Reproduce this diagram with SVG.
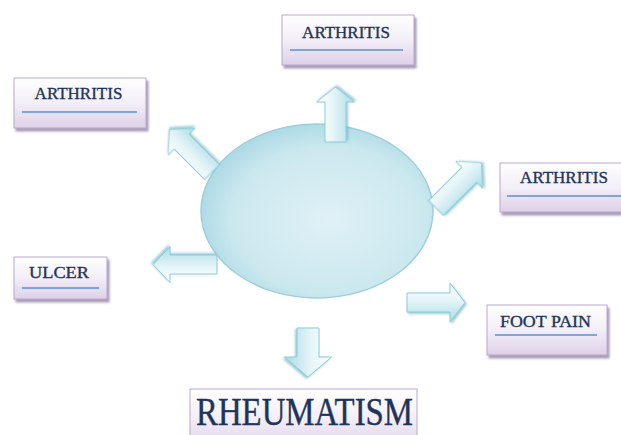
<svg xmlns="http://www.w3.org/2000/svg" width="621" height="435" viewBox="0 0 621 435">
<defs>
<linearGradient id="boxg" x1="0" y1="0" x2="0" y2="1">
<stop offset="0" stop-color="#ffffff"/>
<stop offset="0.5" stop-color="#f3eef7"/>
<stop offset="1" stop-color="#ddd0e8"/>
</linearGradient>
<radialGradient id="ellr" cx="0.55" cy="0.55" r="0.6">
<stop offset="0" stop-color="#dff1f6"/>
<stop offset="0.7" stop-color="#cbe8ef"/>
<stop offset="1" stop-color="#a6d6e2"/>
</radialGradient>
<linearGradient id="arrg" x1="0" y1="0" x2="0" y2="1">
<stop offset="0" stop-color="#ffffff"/>
<stop offset="0.45" stop-color="#e4f4f8"/>
<stop offset="1" stop-color="#a9dbe6"/>
</linearGradient>
<filter id="sh" x="-10%" y="-10%" width="125%" height="140%">
<feDropShadow dx="2" dy="3" stdDeviation="1.2" flood-color="#8a7a9c" flood-opacity="0.75"/>
</filter>
<filter id="ash" x="-20%" y="-30%" width="150%" height="170%">
<feDropShadow dx="1.5" dy="1.5" stdDeviation="1" flood-color="#5aa6b8" flood-opacity="0.6"/>
</filter>
</defs>
<style>
.box{fill:url(#boxg);stroke:#bba8cf;stroke-width:1;filter:url(#sh)}
.lbl{font-family:"Liberation Serif","Times New Roman",serif;font-size:17px;fill:#1f3459;stroke:#1f3459;stroke-width:0.35;text-anchor:middle}
.ul{stroke:#5a8fd0;stroke-width:1.3}
.arr{fill:url(#arrg);stroke:#8ccbd9;stroke-width:1;filter:url(#ash)}
</style>
<rect width="621" height="435" fill="#ffffff"/>

<g id="center">
<ellipse cx="317" cy="211" rx="116" ry="87" fill="url(#ellr)" stroke="#9ccfdc" stroke-width="1.5"/>
</g>

<g id="connectors">
<path class="arr" transform="translate(335.5,142) rotate(-90)" d="M0,-10.5 H40 V-19 L55,0 L40,19 V10.5 H0 Z"/>
<path class="arr" transform="translate(212,172) rotate(225)" d="M0,-10.5 H43 V-19 L60,0 L43,19 V10.5 H0 Z"/>
<path class="arr" transform="translate(436,208) rotate(-45)" d="M0,-10.5 H47 V-19 L64,0 L47,19 V10.5 H0 Z"/>
<path class="arr" transform="translate(217,264.5) rotate(180)" d="M0,-9.5 H47 V-18 L64,0 L47,18 V9.5 H0 Z"/>
<path class="arr" transform="translate(407,302.5)" d="M0,-9.5 H43 V-19.5 L58,0 L43,19.5 V9.5 H0 Z"/>
<path class="arr" transform="translate(308,328) rotate(90)" d="M0,-11 H29 V-23.5 L49,0 L29,23.5 V11 H0 Z"/>
</g>

<g id="node-top">
<rect class="box" x="282" y="15" width="132" height="50"/>
<text class="lbl" x="346" y="38">ARTHRITIS</text>
<line class="ul" x1="290" y1="50" x2="403" y2="50"/>
</g>

<g id="node-left">
<rect class="box" x="14" y="78" width="132" height="50"/>
<text class="lbl" x="78.5" y="99">ARTHRITIS</text>
<line class="ul" x1="22" y1="112" x2="137" y2="112"/>
</g>

<g id="node-right">
<rect class="box" x="500" y="163" width="130" height="49"/>
<text class="lbl" x="564" y="183">ARTHRITIS</text>
<line class="ul" x1="507" y1="196" x2="621" y2="196"/>
</g>

<g id="node-ulcer">
<rect class="box" x="14" y="257" width="93" height="42"/>
<text class="lbl" x="59" y="278" textLength="60" lengthAdjust="spacingAndGlyphs">ULCER</text>
<line class="ul" x1="22" y1="288" x2="99" y2="288"/>
</g>

<g id="node-foot">
<rect class="box" x="487" y="305" width="120" height="50"/>
<text class="lbl" x="545.5" y="327" textLength="91" lengthAdjust="spacingAndGlyphs">FOOT PAIN</text>
<line class="ul" x1="495" y1="335" x2="597" y2="335"/>
</g>

<g id="node-rheumatism">
<rect x="190" y="389" width="227" height="60" fill="url(#boxg)" stroke="#bba8cf" stroke-width="1"/>
<text x="304.5" y="425" font-family="'Liberation Serif','Times New Roman',serif" font-size="41" fill="#1f3459" stroke="#1f3459" stroke-width="0.4" text-anchor="middle" textLength="217" lengthAdjust="spacingAndGlyphs">RHEUMATISM</text>
</g>
</svg>
